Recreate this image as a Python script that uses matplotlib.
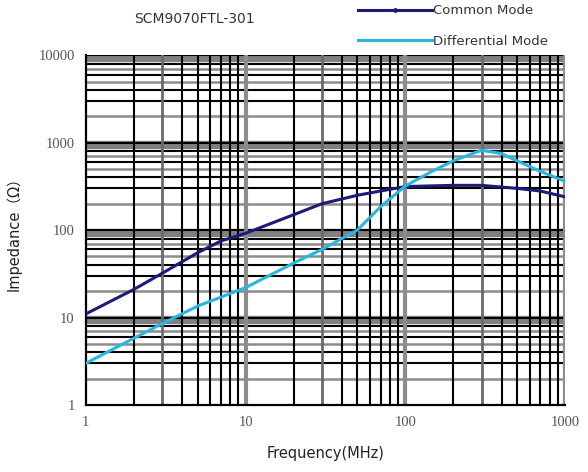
import matplotlib
matplotlib.use("Agg")
import matplotlib.pyplot as plt
from matplotlib.ticker import NullLocator
import numpy as np

# data
freq_cm = [1, 2, 3, 5, 7, 10, 20, 30, 50, 70, 100, 200, 300, 500, 700, 1000]
z_cm = [11, 21, 32, 55, 75, 92, 150, 200, 250, 280, 315, 325, 325, 300, 280, 240]

freq_dm = [1, 2, 3, 5, 10, 20, 30, 50, 70, 100, 150, 200, 300, 400, 500, 700, 1000]
z_dm = [3, 5.8, 8.5, 13.5, 22, 42, 60, 100, 185, 320, 480, 620, 820, 750, 620, 470, 360]

title = "SCM9070FTL-301"
x_ticks = [1, 10, 100, 1000]
y_ticks = [1, 10, 100, 1000, 10000]

fig = plt.figure(figsize=(5.88, 4.72), dpi=100)
ax = fig.add_axes([0.146, 0.142, 0.815, 0.741])

ax.set_xscale("log")
ax.set_yscale("log")
ax.set_xlim(1, 1000)
ax.set_ylim(1, 10000)
ax.xaxis.set_minor_locator(NullLocator())
ax.yaxis.set_minor_locator(NullLocator())

# scanned-looking grid: black and gray lines mixed
for d in range(4):
    base = 10 ** d
    for m in [3, 4, 6, 8, 10]:
        ax.axhline(m * base, color="black", lw=1.5, zorder=1)
    for m in [2, 5, 7]:
        ax.axhline(m * base, color="#8c8c8c", lw=1.8, zorder=1)
    ax.axhline(9.3 * base, color="#808080", lw=6, zorder=0.9)

for d in range(3):
    base = 10 ** d
    for m in [2, 4, 5, 6, 7, 8, 9]:
        ax.axvline(m * base, color="black", lw=1.5, zorder=1)
    ax.axvline(3 * base, color="#6a6a6a", lw=2, zorder=1)
    ax.axvline(10 * base, color="#8c8c8c", lw=3, zorder=1)

ax.set_xticks(x_ticks)
ax.set_yticks(y_ticks)
ax.set_xticklabels([str(v) for v in x_ticks])
ax.set_yticklabels([str(v) for v in y_ticks])
ax.tick_params(which="both", length=0, labelsize=10.5, labelcolor="#555555", pad=8)
for lab in ax.get_xticklabels() + ax.get_yticklabels():
    lab.set_family("Liberation Serif")

for side in ["top", "right"]:
    ax.spines[side].set_visible(False)
for side in ["left", "bottom"]:
    ax.spines[side].set_color("black")
    ax.spines[side].set_linewidth(1.6)

l1, = ax.plot(freq_cm, z_cm, color="#1c1c78", lw=2.2, label="Common Mode",
              marker="o", markersize=2.5, markevery=[], zorder=3)
l2, = ax.plot(freq_dm, z_dm, color="#29b6e0", lw=2.2, label="Differential Mode", zorder=3)

ax.set_xlabel("Frequency(MHz)", fontsize=10.5, color="#222222", family="DejaVu Sans", labelpad=12)
ax.set_ylabel("Impedance（Ω）", fontsize=10.5, color="#222222",
              family=["DejaVu Sans", "Noto Sans CJK SC"], labelpad=12)

fig.text(0.33, 0.96, title, fontsize=10, color="#333333", ha="center", va="center",
         family="DejaVu Sans")

leg = fig.legend(handles=[l1, l2], loc="upper left", bbox_to_anchor=(0.595, 1.008),
                 frameon=False, fontsize=9.5, handlelength=5.6, handletextpad=0.1,
                 labelspacing=1.35, borderaxespad=0.2)
for t in leg.get_texts():
    t.set_color("#333333")
    t.set_family("DejaVu Sans")

fig.savefig("out.png", dpi=100)
